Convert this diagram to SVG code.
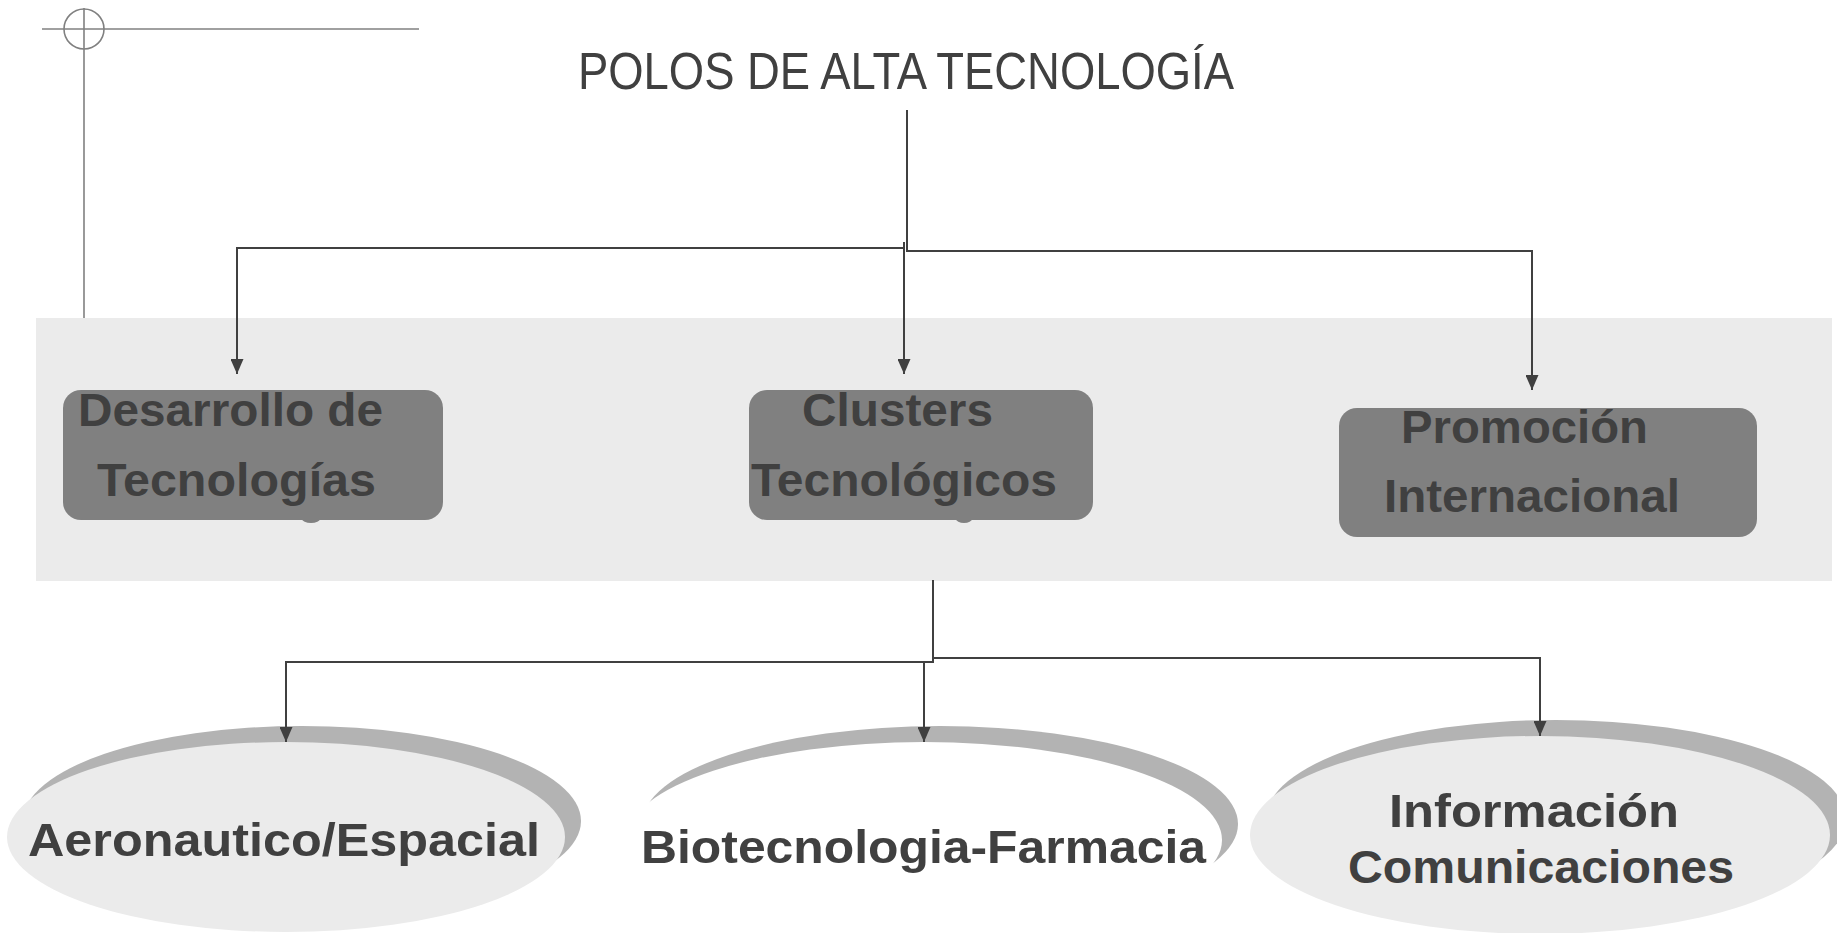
<svg xmlns="http://www.w3.org/2000/svg" width="1837" height="933" viewBox="0 0 1837 933">
<style>
.lbl{font-family:"Liberation Sans",Arial,sans-serif;font-weight:bold;font-size:47px;fill:#404040}
.ttl{font-family:"Liberation Sans",Arial,sans-serif;font-size:51px;fill:#404040}
.box{fill:#808080}
.sh{fill:#b3b3b3}
.lt{fill:#ebebeb}
.con{fill:none;stroke:#404040;stroke-width:2}
.guide{fill:none;stroke:#808080;stroke-width:1.6}
</style>
<defs>
<marker id="arr" markerUnits="userSpaceOnUse" viewBox="0 0 15 13" markerWidth="15" markerHeight="13" refX="15" refY="6.5" orient="auto">
<path d="M0,0 L15,6.5 L0,13 z" fill="#404040"/>
</marker>
</defs>
<rect width="1837" height="933" fill="#ffffff"/>
<g id="guide">
<line class="guide" x1="42" y1="29" x2="419" y2="29"/>
<line class="guide" x1="84" y1="8" x2="84" y2="318"/>
<circle class="guide" cx="84" cy="29" r="20"/>
</g>
<g id="title">
<text class="ttl" x="578" y="89" textLength="656" lengthAdjust="spacingAndGlyphs">POLOS DE ALTA TECNOLOGÍA</text>
</g>
<rect id="band" x="36" y="318" width="1796" height="263" fill="#ebebeb"/>
<g id="n-desarrollo">
<ellipse class="box" cx="311" cy="519" rx="9" ry="4"/>
<rect class="box" x="63" y="390" width="380" height="130" rx="18"/>
<text class="lbl" x="78" y="426" textLength="305" lengthAdjust="spacingAndGlyphs">Desarrollo de</text>
<text class="lbl" x="97" y="496" textLength="279" lengthAdjust="spacingAndGlyphs">Tecnologías</text>
</g>
<g id="n-clusters">
<ellipse class="box" cx="964" cy="519" rx="8" ry="4"/>
<rect class="box" x="749" y="390" width="344" height="130" rx="18"/>
<text class="lbl" x="802" y="426" textLength="191" lengthAdjust="spacingAndGlyphs">Clusters</text>
<text class="lbl" x="751" y="496" textLength="306" lengthAdjust="spacingAndGlyphs">Tecnológicos</text>
</g>
<g id="n-promocion">
<rect class="box" x="1339" y="408" width="418" height="129" rx="18"/>
<text class="lbl" x="1401" y="443" textLength="247" lengthAdjust="spacingAndGlyphs">Promoción</text>
<text class="lbl" x="1384" y="512" textLength="296" lengthAdjust="spacingAndGlyphs">Internacional</text>
</g>
<g id="n-aero">
<ellipse class="sh" cx="302" cy="821" rx="279" ry="95"/>
<ellipse class="lt" cx="286" cy="837" rx="279" ry="95"/>
<text class="lbl" x="28" y="856" textLength="512" lengthAdjust="spacingAndGlyphs">Aeronautico/Espacial</text>
</g>
<g id="n-bio">
<ellipse class="sh" cx="940" cy="824" rx="298" ry="98"/>
<ellipse cx="924" cy="840" rx="298" ry="98" fill="#ffffff"/>
<text class="lbl" x="641" y="863" textLength="565" lengthAdjust="spacingAndGlyphs">Biotecnologia-Farmacia</text>
</g>
<g id="n-info">
<ellipse class="sh" cx="1556" cy="819" rx="290" ry="99"/>
<ellipse class="lt" cx="1540" cy="835" rx="290" ry="99"/>
<text class="lbl" x="1389" y="827" textLength="290" lengthAdjust="spacingAndGlyphs">Información</text>
<text class="lbl" x="1348" y="883" textLength="386" lengthAdjust="spacingAndGlyphs">Comunicaciones</text>
</g>
<g id="connectors">
<path class="con" d="M907,110 V251 H1532 V390" marker-end="url(#arr)"/>
<path class="con" d="M904,248 H237 V374" marker-end="url(#arr)"/>
<path class="con" d="M904,242 V374" marker-end="url(#arr)"/>
<path class="con" d="M933,580 V662 H286 V742" marker-end="url(#arr)"/>
<path class="con" d="M933,658 H1540 V736" marker-end="url(#arr)"/>
<path class="con" d="M924,662 V742" marker-end="url(#arr)"/>
</g>
</svg>
